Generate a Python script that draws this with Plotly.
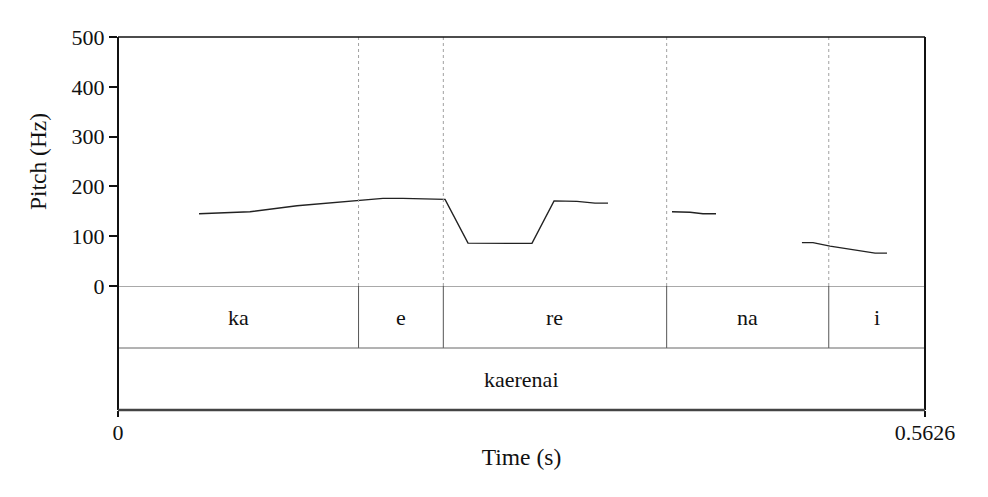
import plotly.graph_objects as go

# Pitch contour (s, Hz); None marks unvoiced gaps
time_s = [0.0565, 0.0920, 0.1248, 0.1478, 0.1562, 0.1673, 0.1847, 0.1986, 0.2280,
          0.2440, 0.2886, 0.3040, 0.3200, 0.3325, 0.3416, None,
          0.3862, 0.3988, 0.4078, 0.4169, None,
          0.4768, 0.4845, 0.4964, 0.5152, 0.5278, 0.5361]
pitch_hz = [145, 149, 161, 167, 170, 172.5, 176, 176, 174,
            86, 85.5, 171, 170, 166.5, 166.5, None,
            149, 148, 145, 145, None,
            87, 87, 80, 72, 66, 66]

# Tier 1 (syllables)
syll_bounds = [0.0, 0.1677, 0.2268, 0.3825, 0.4955, 0.5626]
syll_labels = ["ka", "e", "re", "na", "i"]
# Tier 2 (word)
word_bounds = [0.0, 0.5626]
word_labels = ["kaerenai"]

t_end = 0.5626
y_ticks = [0, 100, 200, 300, 400, 500]

FONT = "Liberation Serif"
TF = dict(family=FONT, size=22, color="#111111")
TITLEF = dict(family=FONT, size=23.5, color="#111111")

fig = go.Figure()
fig.add_trace(go.Scatter(x=time_s, y=pitch_hz, mode="lines",
                         line=dict(color="#222222", width=1.4),
                         connectgaps=False, showlegend=False, hoverinfo="skip"))

shapes = []
# dotted boundary lines in the pitch area, solid in tier 1
for b in syll_bounds[1:-1]:
    shapes.append(dict(type="line", xref="x", yref="y", x0=b, x1=b, y0=0, y1=500,
                       line=dict(color="#a0a0a0", width=1, dash="dot")))
    shapes.append(dict(type="line", xref="x", yref="y2", x0=b, x1=b, y0=1, y1=2,
                       line=dict(color="#555555", width=1)))
# tier separators
shapes.append(dict(type="line", xref="paper", yref="y2", x0=0, x1=1, y0=2, y1=2,
                   line=dict(color="#555555", width=1)))
shapes.append(dict(type="line", xref="paper", yref="y2", x0=0, x1=1, y0=1, y1=1,
                   line=dict(color="#666666", width=1)))
# frame
shapes.append(dict(type="line", xref="paper", yref="paper", x0=0, x1=1, y0=1, y1=1,
                   line=dict(color="#111111", width=1.5)))
shapes.append(dict(type="line", xref="paper", yref="paper", x0=0, x1=0, y0=0, y1=1,
                   line=dict(color="#111111", width=2)))
shapes.append(dict(type="line", xref="paper", yref="paper", x0=1, x1=1, y0=0, y1=1,
                   line=dict(color="#111111", width=2)))
shapes.append(dict(type="line", xref="paper", yref="paper", x0=0, x1=1, y0=0, y1=0,
                   line=dict(color="#444444", width=2.5)))

annotations = []
for i, lab in enumerate(syll_labels):
    annotations.append(dict(x=(syll_bounds[i] + syll_bounds[i + 1]) / 2, y=1.5,
                            xref="x", yref="y2", text=lab, showarrow=False, font=TF))
for i, lab in enumerate(word_labels):
    annotations.append(dict(x=(word_bounds[i] + word_bounds[i + 1]) / 2, y=0.5,
                            xref="x", yref="y2", text=lab, showarrow=False, font=TF))

split = (410 - 286) / 373

fig.update_layout(
    width=988, height=497,
    margin=dict(l=118, r=63, t=37, b=87),
    paper_bgcolor="white", plot_bgcolor="white",
    font=TF,
    shapes=shapes, annotations=annotations,
    xaxis=dict(range=[0, t_end], anchor="y2", tickmode="array",
               tickvals=[0, t_end], ticktext=["0", "0.5626"], tickfont=TF,
               ticks="outside", ticklen=6, tickwidth=1.5, tickcolor="#111111",
               ticklabelstandoff=-3,
               showgrid=False, zeroline=False, showline=False,
               title=dict(text="Time (s)", standoff=4, font=TITLEF)),
    yaxis=dict(range=[0, 500], domain=[split, 1], tickvals=y_ticks, tickfont=TF,
               ticks="outside", ticklen=8, tickwidth=1.5, tickcolor="#111111",
               showgrid=False, zeroline=False, showline=False,
               title=dict(text="Pitch (Hz)", standoff=18, font=TITLEF)),
    yaxis2=dict(range=[0, 2], domain=[0, split], visible=False),
)

fig.write_html("out.html")
